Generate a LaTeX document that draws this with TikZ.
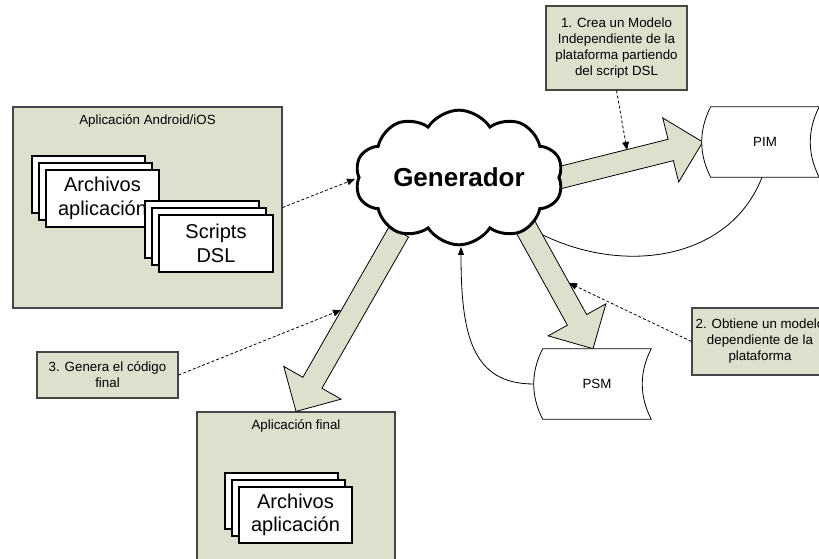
\documentclass[tikz,border=0pt]{standalone}
\usepackage{fontspec}
\setmainfont{Liberation Sans}
\usetikzlibrary{shapes.symbols,arrows.meta,calc,fit}

\definecolor{boxfill}{RGB}{221,224,204}
\definecolor{boxline}{RGB}{70,70,70}

% wide block arrow from #1 to #2 (shaft 22px, head 66px wide, 33px long)
\newcommand\blockarrow[2]{%
  \path (#2) coordinate (ba-t) ($(#2)!24.75pt!(#1)$) coordinate (ba-h);
  \filldraw[blockarr]
    ($(#1)!8.25pt!90:(ba-t)$) --
    ($(ba-h)!8.25pt!90:(ba-t)$) --
    ($(ba-h)!24.75pt!90:(ba-t)$) --
    (ba-t) --
    ($(ba-h)!24.75pt!-90:(ba-t)$) --
    ($(ba-h)!8.25pt!-90:(ba-t)$) --
    ($(#1)!8.25pt!-90:(ba-t)$) -- cycle;
}

% stored-data outline around an invisible node
\newcommand\storeoutline[1]{%
  \draw[flow, fill=white] (#1.north west)
    .. controls ($(#1.north west)+(-12,23)$) and ($(#1.south west)+(-12,-23)$) .. (#1.south west)
    -- (#1.south east)
    .. controls ($(#1.south east)+(-12,-23)$) and ($(#1.north east)+(-12,23)$) .. (#1.north east)
    -- cycle;
}

\tikzset{
  panel/.style={draw=boxline, fill=boxfill, line width=0.9pt, inner sep=0pt},
  card/.style={draw=black, fill=white, line width=0.8pt, inner sep=0pt},
  note/.style={draw=boxline, fill=boxfill, line width=0.9pt, inner sep=0pt},
  lbl/.style={inner sep=0pt, align=center, font=\fontsize{10pt}{12pt}\selectfont},
  bigtxt/.style={inner sep=0pt, align=center, font=\fontsize{15pt}{17.5pt}\selectfont},
  gentxt/.style={inner sep=0pt, font=\bfseries\fontsize{19.5pt}{22pt}\selectfont},
  genshape/.style={cloud, cloud puffs=10, cloud puff arc=115, aspect=1.54,
    draw=black, fill=white, line width=2.2pt,
    minimum width=156pt, minimum height=101pt, inner sep=0pt},
  blockarr/.style={draw=black, fill=boxfill, line width=0.6pt, line join=miter},
  hint/.style={draw=black, line width=0.6pt, dash pattern=on 2.2pt off 1.6pt,
    -{Triangle[length=6pt,width=5pt]}},
  flow/.style={draw=black, line width=0.6pt},
  store/.style={draw=none, minimum width=81pt, minimum height=52.5pt, inner sep=0pt},
}

\begin{document}
\begin{tikzpicture}[x=0.75pt, y=-0.75pt]
\useasboundingbox (0,0) rectangle (819,559);
\fill[white] (0,0) rectangle (819,559);
\clip (0,0) rectangle (819,559);

% containers
\node[panel, fit={(13,107) (282,308)}] (app) {};
\node[lbl] at ($(app.north)+(0,15)$) {Aplicación Android/iOS};
\node[panel, fit={(197,412) (395,565)}] (fin) {};
\node[lbl] at ($(fin.north)+(0,15)$) {Aplicación final};

% file stacks
\node[card, fit={(32,156) (145,213)}] (arch1) {};
\node[card, fit={(39,163) (152,220)}] (arch2) {};
\node[card, fit={(46,170) (159,227)}] (arch3) {};
\node[bigtxt] at (arch3.center) {Archivos\\aplicación};

\node[card, fit={(145,201) (259,258)}] (scr1) {};
\node[card, fit={(152,208) (266,265)}] (scr2) {};
\node[card, fit={(159,215) (273,272)}] (scr3) {};
\node[bigtxt] at (scr3.center) {Scripts\\DSL};

\node[card, fit={(225,473) (338,529)}] (out1) {};
\node[card, fit={(232,480) (345,536)}] (out2) {};
\node[card, fit={(239,487) (352,543)}] (out3) {};
\node[bigtxt] at (out3.center) {Archivos\\aplicación};

% model stores (outlines drawn later)
\node[store] (pim) at (765,142) {};
\node[store] (psm) at (597,384) {};

% connector ends
\coordinate (s1) at (556.7,178.4);
\coordinate (s2) at (522,220.5);
\coordinate (s3) at (399,231.6);
\coordinate (e1) at ($(pim.west)+(-8,0)$);
\coordinate (e2) at ($(psm.north)+(-4,0)$);
\coordinate (e3) at (fin.north);
\coordinate (c1end) at (535,231);
\coordinate (c2end) at (461,247);
\coordinate (t1) at (627,150);
\coordinate (t2) at (569,283);
\coordinate (t3) at (341,310);
\coordinate (t4) at (355,179);

\draw[hint] (app.east) -- (t4);

% PIM back to the generator
\draw[flow] ($(pim.south)+(-3,0)$) .. controls (729.6,260.7) and (621,277) .. (c1end);

% transformation arrows
\blockarrow{s1}{e1}
\blockarrow{s2}{e2}
\blockarrow{s3}{e3}

% generator
\node[genshape] (gen) at (459,177.5) {};
\node[gentxt] at (gen.center) {Generador};

% stores
\storeoutline{pim}
\node[lbl] at (pim.center) {PIM};
\storeoutline{psm}
\node[lbl] at (psm.center) {PSM};

\draw[flow, -{Triangle[length=6pt,width=4.5pt]}] ($(psm.west)+(-9,0)$)
  .. controls (472,384) and (461,335) .. (c2end);

% step notes
\node[note, fit={(546,6) (687,90)}] (note1) {};
\node[lbl] at (note1.center) {1. Crea un Modelo\\Independiente de la\\plataforma partiendo\\del script DSL};
\node[note, fit={(692,308) (828,375)}] (note2) {};
\node[lbl] at (note2.center) {2. Obtiene un modelo\\dependiente de la\\plataforma};
\node[note, fit={(37,352) (178,398)}] (note3) {};
\node[lbl] at (note3.center) {3. Genera el código\\final};

\draw[hint] (note1.south) -- (t1);
\draw[hint] (note2.west) -- (t2);
\draw[hint] (note3.east) -- (t3);
\end{tikzpicture}
\end{document}
